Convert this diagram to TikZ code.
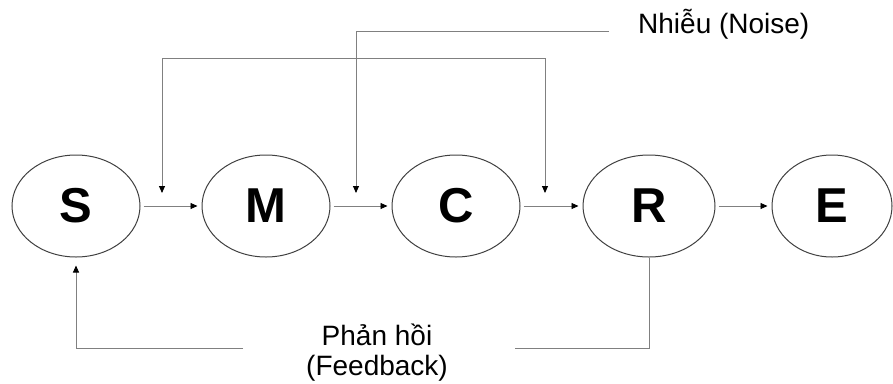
\documentclass[tikz,border=0pt]{standalone}
\usepackage{fontspec}
\setmainfont{Liberation Sans}
\usetikzlibrary{shapes.geometric,arrows.meta}
\tikzset{
  elli/.style={ellipse,draw=black!75,line width=1pt,minimum width=128pt,minimum height=102pt,inner sep=0pt,font=\fontsize{49}{52}\selectfont\bfseries},
  conn/.style={draw=black!50,line width=0.9pt},
  tip/.style={-{Triangle[length=7pt,width=6pt,fill=black,color=black]}},
  lbl/.style={font=\fontsize{28}{30}\selectfont,inner sep=0pt},
}
\begin{document}
\begin{tikzpicture}[x=1pt,y=-1pt]
\useasboundingbox (0,0) rectangle (893,383);
\node[elli] (S) at (76,206) {S};
\node[elli] (M) at (266,206) {M};
\node[elli] (C) at (456,206) {C};
\node[elli,minimum width=132pt] (R) at (649,206) {R};
\node[elli,minimum width=120pt] (E) at (832,206) {E};
% forward arrows
\draw[conn,tip,shorten <=3pt,shorten >=4pt] (S) -- (M);
\draw[conn,tip,shorten <=3pt,shorten >=4pt] (M) -- (C);
\draw[conn,tip,shorten <=3pt,shorten >=4pt] (C) -- (R);
\draw[conn,tip,shorten <=3pt,shorten >=4pt] (R) -- (E);
% noise
\node[lbl,anchor=base west] (noise) at (638,33) {Nhiễu (Noise)};
\coordinate (nend) at (609,31);
\coordinate (t1) at (162,193);
\coordinate (t2) at (356,193);
\coordinate (t3) at (545,193);
\coordinate (top2) at (162,58);
\draw[conn,tip] (nend) -| (t2);
\draw[conn,{Triangle[length=7pt,width=6pt,fill=black,color=black]}-{Triangle[length=7pt,width=6pt,fill=black,color=black]}] (t1) -- (top2) -| (t3);
% feedback
\node[lbl,align=center,anchor=base] (fb) at (377,375) {Phản hồi\\(Feedback)};
\coordinate (fbr) at (515,348);
\coordinate (fbl) at (243,348);
\draw[conn] (R.south) |- (fbr);
\draw[conn,tip,shorten >=8pt] (fbl) -| (S.south);
\end{tikzpicture}
\end{document}
